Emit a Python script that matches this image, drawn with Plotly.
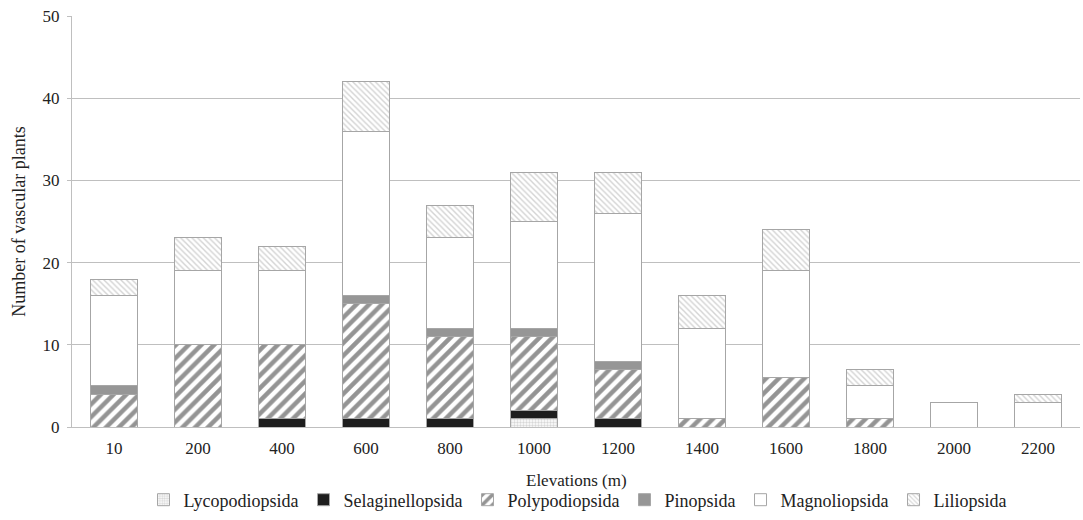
import plotly.graph_objects as go

elevations = ["10", "200", "400", "600", "800", "1000", "1200", "1400", "1600", "1800", "2000", "2200"]
lycopodiopsida = [0, 0, 0, 0, 0, 1, 0, 0, 0, 0, 0, 0]
selaginellopsida = [0, 0, 1, 1, 1, 1, 1, 0, 0, 0, 0, 0]
polypodiopsida = [4, 10, 9, 14, 10, 9, 6, 1, 6, 1, 0, 0]
pinopsida = [1, 0, 0, 1, 1, 1, 1, 0, 0, 0, 0, 0]
magnoliopsida = [11, 9, 9, 20, 11, 13, 18, 11, 13, 4, 3, 3]
liliopsida = [2, 4, 3, 6, 4, 6, 5, 4, 5, 2, 0, 1]

FONT = "Liberation Serif"
line = dict(color="#a6a6a6", width=1)

series = [
    ("Lycopodiopsida", lycopodiopsida, dict(color="white", line=line,
        pattern=dict(shape=".", fgcolor="#b0b0b0", bgcolor="white", size=3, solidity=0.5))),
    ("Selaginellopsida", selaginellopsida, dict(color="#1e1e1e", line=line)),
    ("Polypodiopsida", polypodiopsida, dict(color="white", line=line,
        pattern=dict(shape="/", fgcolor="#2a2a2a", bgcolor="white", size=9, solidity=0.5))),
    ("Pinopsida", pinopsida, dict(color="#969696", line=line)),
    ("Magnoliopsida", magnoliopsida, dict(color="white", line=line)),
    ("Liliopsida", liliopsida, dict(color="white", line=line,
        pattern=dict(shape="\\", fgcolor="#a8a8a8", bgcolor="white", size=4, solidity=0.35))),
]

fig = go.Figure()
for name, vals, marker in series:
    fig.add_trace(go.Bar(x=elevations, y=vals, name=name, marker=marker))

fig.update_layout(
    barmode="stack",
    bargap=0.43,
    width=1083, height=520,
    margin=dict(l=72, r=3, t=16, b=93),
    plot_bgcolor="white", paper_bgcolor="white",
    font=dict(family=FONT, size=17, color="#222"),
    legend=dict(orientation="h", x=578 / 1083, xanchor="center", xref="container",
                y=1 - 500 / 520, yanchor="middle", yref="container",
                font=dict(family=FONT, size=18, color="#222"), itemwidth=30,
                traceorder="normal"),
    xaxis=dict(showline=True, linecolor="#bfbfbf", linewidth=1, automargin=False,
               tickfont=dict(size=17), ticks="", showgrid=False, ticklabelstandoff=6),
    yaxis=dict(title=dict(text="Number of vascular plants", font=dict(size=18), standoff=12),
               range=[0, 50], dtick=10, showgrid=True, gridcolor="#bfbfbf", gridwidth=1,
               showline=True, linecolor="#bfbfbf", linewidth=1, ticks="outside", automargin=False,
               ticklen=4, tickcolor="#bfbfbf", tickfont=dict(size=17), zeroline=False,
               ticklabelstandoff=4),
    annotations=[dict(text="Elevations (m)", xref="paper", yref="paper", x=0.5,
                      y=-(480 - 427) / 411, xanchor="center", yanchor="middle",
                      showarrow=False, font=dict(family=FONT, size=17, color="#222"))],
)

fig.write_html("out.html", config={"displayModeBar": False},
               post_script="document.body.style.margin='0';document.body.style.overflow='hidden';")
